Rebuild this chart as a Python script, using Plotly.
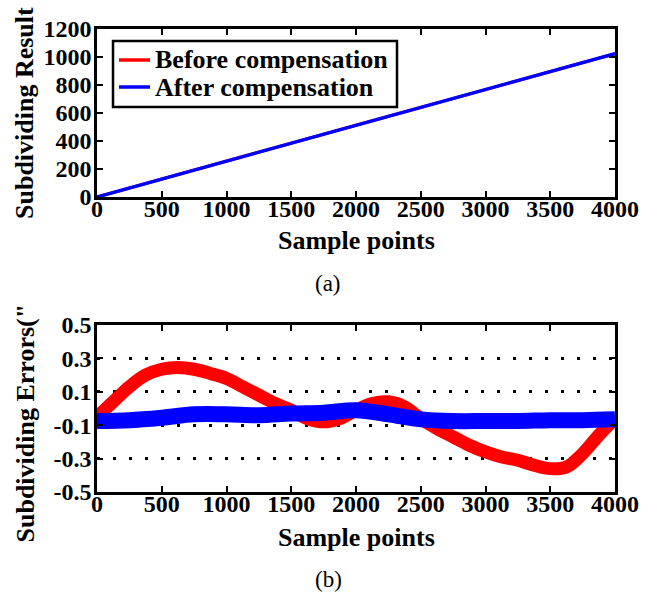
import plotly.graph_objects as go

# ---- data ----
x_top = [0, 1000, 2000, 3000, 4000]
before_top = [0, 258, 513, 767, 1024]
after_top = [0, 256, 512, 768, 1024]

x_red = [0, 125, 250, 375, 500, 625, 750, 875, 1000, 1125, 1250, 1375, 1500, 1625,
         1750, 1875, 2000, 2125, 2250, 2375, 2500, 2625, 2750, 2875, 3000, 3125,
         3250, 3375, 3500, 3625, 3750, 3875, 4000]
err_before = [-0.05, 0.04, 0.13, 0.20, 0.235, 0.245, 0.235, 0.21, 0.18, 0.13, 0.08,
              0.03, -0.01, -0.06, -0.08, -0.06, -0.01, 0.03, 0.04, 0.01, -0.06, -0.12,
              -0.17, -0.22, -0.26, -0.29, -0.31, -0.34, -0.36, -0.35, -0.27, -0.16, -0.06]
x_blue = [0, 250, 500, 750, 1000, 1250, 1500, 1750, 2000, 2250, 2500, 2750, 3000,
          3250, 3500, 3750, 4000]
err_after = [-0.075, -0.07, -0.055, -0.035, -0.035, -0.04, -0.03, -0.025, -0.01,
             -0.035, -0.065, -0.075, -0.075, -0.075, -0.07, -0.07, -0.065]

series_names = ["Before compensation", "After compensation"]
series_colors = ["#ff0000", "#0000ff"]

x_ticks = [0, 500, 1000, 1500, 2000, 2500, 3000, 3500, 4000]
top_y_ticks = [0, 200, 400, 600, 800, 1000, 1200]
bot_y_ticks = [-0.5, -0.3, -0.1, 0.1, 0.3, 0.5]
bot_y_text = ["-0.5", "-0.3", "-0.1", "0.1", "0.3", "0.5"]

W, H = 657, 595
FONT = "Liberation Serif"
tick_font = dict(family=FONT, size=24, color="black", weight="bold")
title_font = dict(family=FONT, size=26, color="black", weight="bold")
legend_font = dict(family=FONT, size=26, color="black", weight="bold")

fig = go.Figure()
fig.add_trace(go.Scatter(x=x_top, y=before_top, mode="lines", name=series_names[0],
                         line=dict(color=series_colors[0], width=3), xaxis="x", yaxis="y",
                         showlegend=False))
fig.add_trace(go.Scatter(x=x_top, y=after_top, mode="lines", name=series_names[1],
                         line=dict(color=series_colors[1], width=3.5), xaxis="x", yaxis="y",
                         showlegend=False))
fig.add_trace(go.Scatter(x=x_red, y=err_before, mode="lines", name=series_names[0], showlegend=False,
                         line=dict(color=series_colors[0], width=13, shape="spline"), xaxis="x2", yaxis="y2"))
fig.add_trace(go.Scatter(x=x_blue, y=err_after, mode="lines", name=series_names[1], showlegend=False,
                         line=dict(color=series_colors[1], width=16, shape="spline"), xaxis="x2", yaxis="y2"))

def px_x(p):
    return p / W

def px_y(p):
    return 1 - p / H

axis_common = dict(showline=True, linecolor="black", linewidth=2.5, mirror="ticks",
                   ticks="inside", ticklen=6, tickwidth=2, tickcolor="black",
                   tickfont=tick_font, zeroline=False, automargin=False)

xdom = [px_x(97), px_x(615)]
fig.update_layout(
    width=W, height=H,
    margin=dict(l=0, r=0, t=0, b=0),
    paper_bgcolor="white", plot_bgcolor="white",
    hovermode=False,
    xaxis=dict(domain=xdom, range=[0, 4000], tickvals=x_ticks, anchor="y",
               showgrid=False, ticklabelstandoff=-12, **axis_common),
    yaxis=dict(domain=[px_y(197), px_y(29)], range=[0, 1200], tickvals=top_y_ticks,
               anchor="x", showgrid=False, ticklabelstandoff=-2, **axis_common),
    xaxis2=dict(domain=xdom, range=[0, 4000], tickvals=x_ticks, anchor="y2",
                showgrid=False, ticklabelstandoff=-12, **axis_common),
    yaxis2=dict(domain=[px_y(492), px_y(325)], range=[-0.5, 0.5], tickvals=bot_y_ticks,
                ticktext=bot_y_text, anchor="x2", showgrid=True, gridcolor="black",
                gridwidth=3, griddash="3px,13px", ticklabelstandoff=-2, **axis_common),
    showlegend=False,
)

# legend box drawn in the top panel
fig.add_shape(type="rect", xref="paper", yref="paper",
              x0=px_x(113), x1=px_x(397), y0=px_y(107), y1=px_y(41),
              line=dict(color="black", width=2.5), fillcolor="white", layer="above")
for i, yy in enumerate((60, 87)):
    fig.add_shape(type="line", xref="paper", yref="paper",
                  x0=px_x(119), x1=px_x(150), y0=px_y(yy), y1=px_y(yy),
                  line=dict(color=series_colors[i], width=3.5), layer="above")
    fig.add_annotation(xref="paper", yref="paper", showarrow=False, text=series_names[i],
                       x=px_x(153), y=px_y(yy), xanchor="left", yanchor="middle",
                       font=legend_font)

ann = [
    dict(text="Subdividing Result", x=px_x(24), y=px_y(113), textangle=-90),
    dict(text="Sample points", x=px_x(356), y=px_y(240)),
    dict(text='Subdividing Errors("', x=px_x(25), y=px_y(545), textangle=-90, yanchor="bottom"),
    dict(text="Sample points", x=px_x(356), y=px_y(537)),
]
for a in ann:
    fig.add_annotation(xref="paper", yref="paper", showarrow=False, font=title_font,
                       xanchor=a.get("xanchor", "center"), yanchor=a.get("yanchor", "middle"),
                       **{k: v for k, v in a.items() if k not in ("xanchor", "yanchor")})

for t, yy in (("(a)", 283), ("(b)", 579)):
    fig.add_annotation(xref="paper", yref="paper", showarrow=False, text=t,
                       x=px_x(328), y=px_y(yy), xanchor="center", yanchor="middle",
                       font=dict(family=FONT, size=23, color="black"))

fig.write_html("out.html", config={"displayModeBar": False},
               post_script="document.body.style.margin='0';")
